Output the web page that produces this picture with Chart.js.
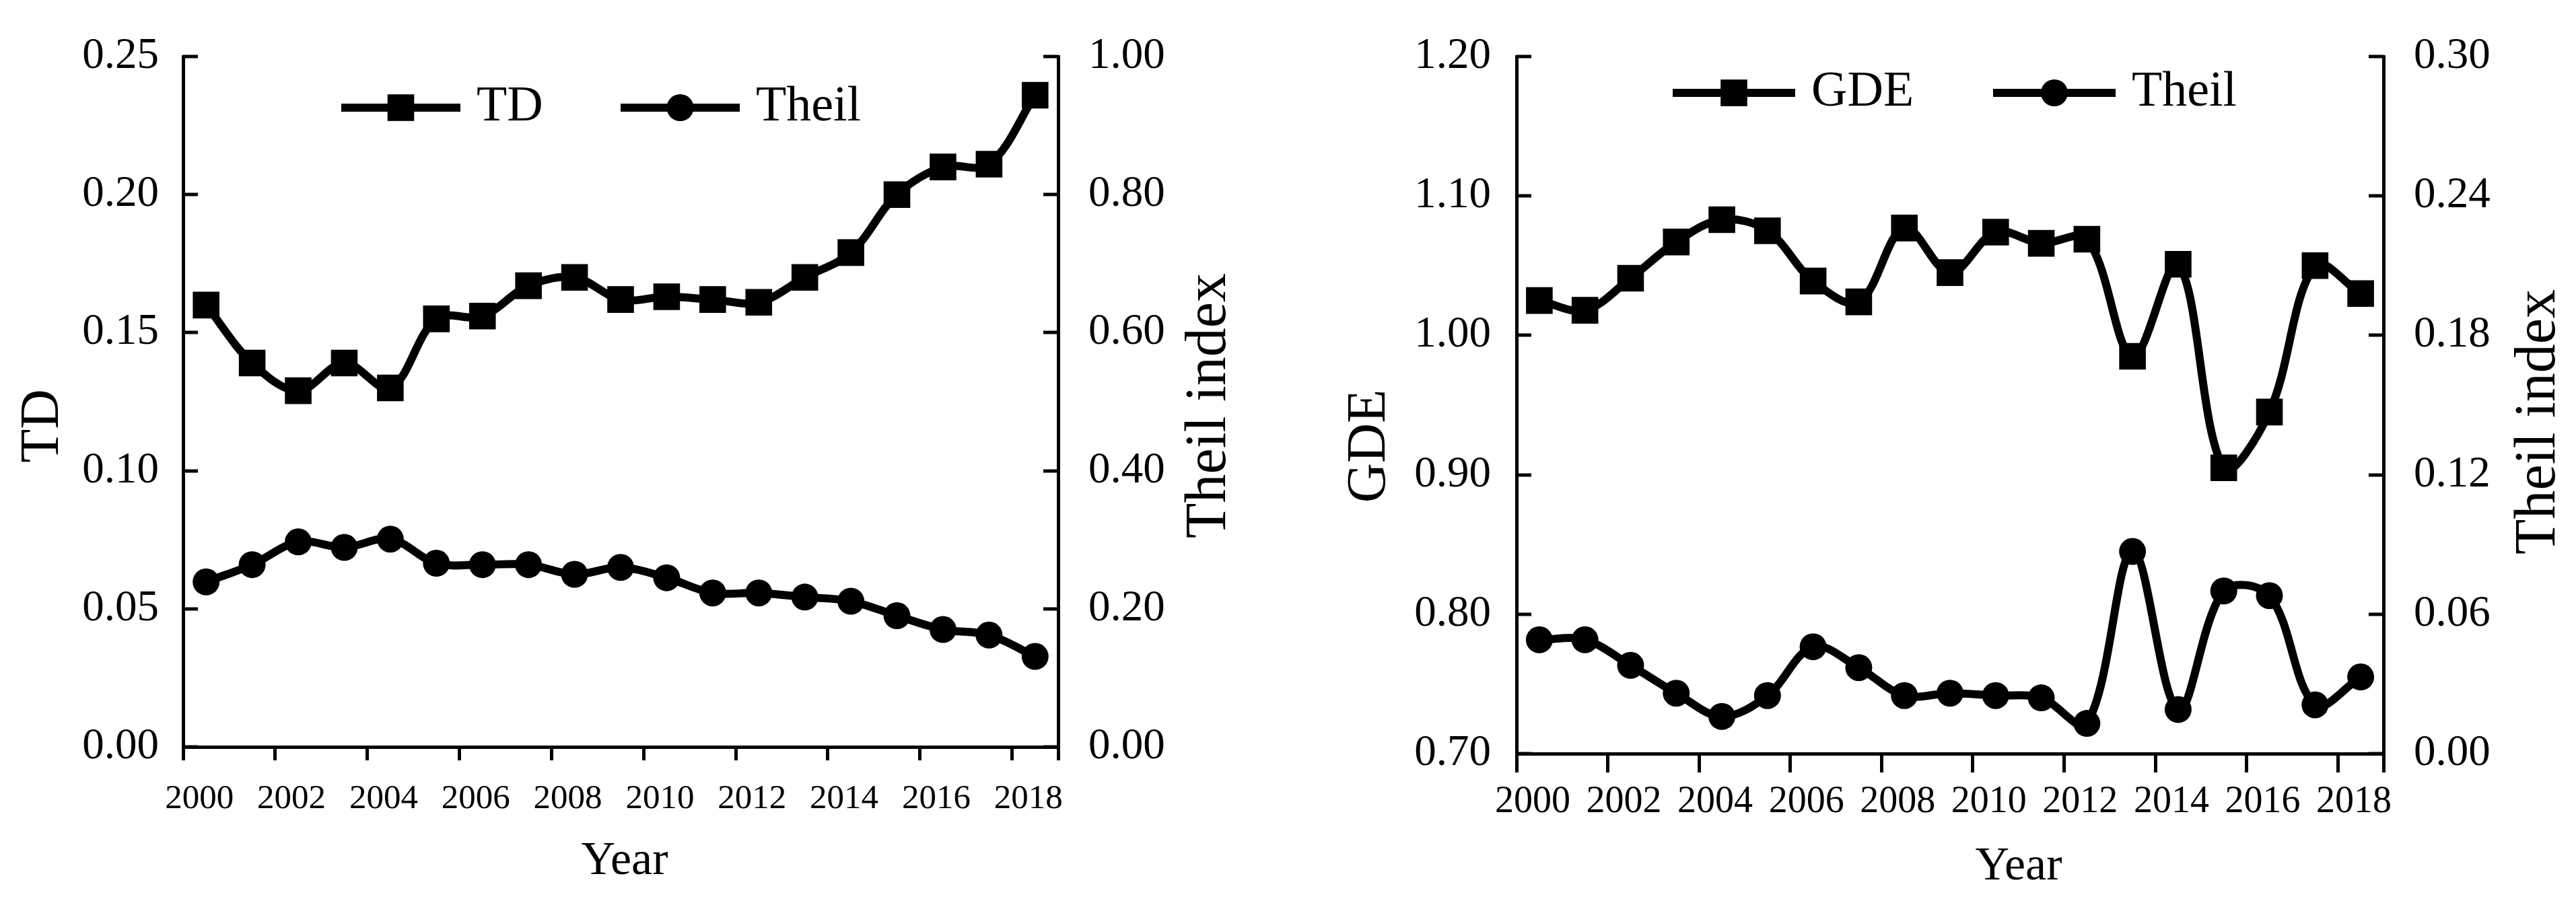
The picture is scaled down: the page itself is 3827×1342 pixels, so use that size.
<!DOCTYPE html>
<html>
<head>
<meta charset="utf-8">
<script src="https://cdn.jsdelivr.net/npm/chart.js@4.4.1/dist/chart.umd.min.js"></script>
<style>
  html, body { margin: 0; padding: 0; background: #fff; }
  #wrap { position: relative; width: 3827px; height: 1342px; }
  canvas { position: absolute; top: 0; }
  #chart-left { left: 0; }
  #chart-right { left: 1914px; }
</style>
</head>
<body>
<div id="wrap">
  <canvas id="chart-left" width="1914" height="1342"></canvas>
  <canvas id="chart-right" width="1913" height="1342"></canvas>
</div>
<script>
const FONT = '"Liberation Serif", "Times New Roman", serif';

const years = ['2000', '2001', '2002', '2003', '2004', '2005', '2006', '2007', '2008', '2009',
  '2010', '2011', '2012', '2013', '2014', '2015', '2016', '2017', '2018'];
const yearTickLabels = ['2000', '2002', '2004', '2006', '2008', '2010', '2012', '2014', '2016', '2018'];

// left panel
const tdValues = [0.160, 0.139, 0.129, 0.139, 0.130, 0.155, 0.156, 0.167, 0.170, 0.162,
  0.163, 0.162, 0.161, 0.170, 0.179, 0.200, 0.210, 0.211, 0.236];
const theilLeft = [0.239, 0.264, 0.297, 0.289, 0.301, 0.266, 0.264, 0.264, 0.250, 0.260,
  0.245, 0.223, 0.223, 0.217, 0.211, 0.190, 0.170, 0.162, 0.131];
const tdTicks = [0, 0.05, 0.10, 0.15, 0.20, 0.25];
const theilLeftTicks = [0, 0.2, 0.4, 0.6, 0.8, 1.0];

// right panel
const gdeValues = [1.025, 1.018, 1.041, 1.067, 1.083, 1.075, 1.039, 1.024, 1.077, 1.045,
  1.074, 1.066, 1.069, 0.985, 1.051, 0.905, 0.945, 1.050, 1.030];
const theilRight = [0.049, 0.049, 0.038, 0.026, 0.016, 0.025, 0.046, 0.037, 0.025, 0.026,
  0.025, 0.024, 0.013, 0.087, 0.019, 0.070, 0.068, 0.021, 0.033];
const gdeTicks = [0.7, 0.8, 0.9, 1.0, 1.1, 1.2];
const theilRightTicks = [0, 0.06, 0.12, 0.18, 0.24, 0.30];

Chart.defaults.font.family = FONT;
Chart.defaults.color = '#000';

// y ticks point inward, Chart.js only draws them outward
const innerTicks = {
  id: 'innerTicks',
  afterDraw(chart) {
    const ctx = chart.ctx;
    ctx.save();
    ctx.strokeStyle = '#000';
    ctx.lineWidth = 5;
    Object.values(chart.scales).forEach((scale) => {
      if (scale.axis !== 'y') return;
      const edge = scale.position === 'left' ? scale.right : scale.left;
      const dir = scale.position === 'left' ? 1 : -1;
      scale.ticks.forEach((tick) => {
        const y = Math.round(scale.getPixelForValue(tick.value));
        ctx.beginPath();
        ctx.moveTo(edge, y);
        ctx.lineTo(edge + dir * 22, y);
        ctx.stroke();
      });
    });
    ctx.restore();
  },
};

// axis titles: both y titles read bottom-to-top, placed like the original figure
function makeTitles(items) {
  return {
    id: 'axisTitles',
    afterDraw(chart) {
      const ctx = chart.ctx;
      items.forEach((item) => {
        ctx.save();
        ctx.translate(item.x, item.y);
        if (item.vertical) ctx.rotate(-Math.PI / 2);
        ctx.font = `${item.size}px ${FONT}`;
        ctx.fillStyle = '#000';
        ctx.textAlign = 'center';
        ctx.textBaseline = 'middle';
        ctx.fillText(item.text, 0, 0);
        ctx.restore();
      });
    },
  };
}

// legend with a line through the marker, like the Excel one
function makeLegend(items) {
  return {
    id: 'lineLegend',
    afterDraw(chart) {
      const { ctx, chartArea } = chart;
      ctx.save();
      items.forEach((item) => {
        const ds = chart.data.datasets[item.dataset];
        const x0 = chartArea.left + item.dx;
        const y = chartArea.top + item.dy;
        ctx.strokeStyle = ds.borderColor;
        ctx.lineWidth = ds.borderWidth;
        ctx.beginPath();
        ctx.moveTo(x0, y);
        ctx.lineTo(x0 + item.len, y);
        ctx.stroke();
        ctx.fillStyle = ds.pointBackgroundColor;
        const cx = x0 + item.len / 2;
        if (ds.pointStyle === 'rect') {
          const half = Math.SQRT1_2 * ds.pointRadius;
          ctx.fillRect(cx - half, y - half, half * 2, half * 2);
        } else {
          ctx.beginPath();
          ctx.arc(cx, y, ds.pointRadius, 0, Math.PI * 2);
          ctx.fill();
        }
        ctx.font = `74px ${FONT}`;
        ctx.fillStyle = '#000';
        ctx.textAlign = 'left';
        ctx.textBaseline = 'middle';
        ctx.fillText(ds.label, x0 + item.len + 24, y);
      });
      ctx.restore();
    },
  };
}

function xScale(fontSize, tickLength, padding, height) {
  return {
    type: 'category',
    offset: true,
    grid: {
      offset: true,
      drawOnChartArea: false,
      drawTicks: true,
      tickLength,
      lineWidth: 5,
      color: (c) => (c.index === undefined || c.index % 2 === 0 ? '#000' : 'rgba(0,0,0,0)'),
    },
    border: { display: true, color: '#000', width: 5 },
    ticks: {
      autoSkip: false,
      maxRotation: 0,
      minRotation: 0,
      padding,
      labelOffset: -10,
      color: '#000',
      font: { family: FONT, size: fontSize },
      callback: (value, index) => (yearTickLabels.includes(years[index]) ? years[index] : ''),
    },
    afterFit: (scale) => { scale.height = height; },
  };
}

function yScale(position, tickValues, width, padding) {
  return {
    type: 'linear',
    position,
    min: tickValues[0],
    max: tickValues[tickValues.length - 1],
    afterBuildTicks: (scale) => { scale.ticks = tickValues.map((v) => ({ value: v })); },
    grid: { drawOnChartArea: false, drawTicks: false },
    border: { display: true, color: '#000', width: 5 },
    ticks: {
      padding,
      color: '#000',
      font: { family: FONT, size: 65 },
      callback: (value) => Number(value).toFixed(2),
    },
    afterFit: (scale) => { scale.width = width; },
  };
}

function lineDataset(label, data, axis, style, radius) {
  return {
    label,
    data,
    yAxisID: axis,
    borderColor: '#000',
    backgroundColor: '#000',
    borderWidth: 12,
    tension: 0.35,
    pointStyle: style,
    pointRadius: radius,
    pointBackgroundColor: '#000',
    pointBorderWidth: 0,
  };
}

const baseOptions = (top) => ({
  responsive: false,
  animation: false,
  devicePixelRatio: 1,
  layout: { padding: { top, left: 0, right: 0, bottom: 0 } },
  plugins: { legend: { display: false }, tooltip: { enabled: false } },
});

new Chart(document.getElementById('chart-left'), {
  type: 'line',
  data: {
    labels: years,
    datasets: [
      lineDataset('TD', tdValues, 'y', 'rect', 28),
      lineDataset('Theil', theilLeft, 'y1', 'circle', 20),
    ],
  },
  options: {
    ...baseOptions(82),
    scales: {
      x: xScale(51, 20, 27, 232),
      y: yScale('left', tdTicks, 272, 36),
      y1: yScale('right', theilLeftTicks, 342, 45),
    },
  },
  plugins: [
    innerTicks,
    makeTitles([
      { text: 'TD', x: 64, y: 633, size: 82, vertical: true },
      { text: 'Theil index', x: 1797, y: 603, size: 86, vertical: true },
      { text: 'Year', x: 928, y: 1281, size: 70 },
    ]),
    makeLegend([
      { dataset: 0, dx: 235, dy: 76, len: 177 },
      { dataset: 1, dx: 650, dy: 76, len: 177 },
    ]),
  ],
});

new Chart(document.getElementById('chart-right'), {
  type: 'line',
  data: {
    labels: years,
    datasets: [
      lineDataset('GDE', gdeValues, 'y', 'rect', 28),
      lineDataset('Theil', theilRight, 'y1', 'circle', 20),
    ],
  },
  options: {
    ...baseOptions(54),
    scales: {
      x: xScale(56, 28, 11, 222),
      y: yScale('left', gdeTicks, 339, 38),
      y1: yScale('right', theilRightTicks, 286, 45),
    },
  },
  plugins: [
    innerTicks,
    makeTitles([
      { text: 'GDE', x: 121, y: 663, size: 82, vertical: true },
      { text: 'Theil index', x: 1858, y: 627, size: 86, vertical: true },
      { text: 'Year', x: 1085, y: 1289, size: 70 },
    ]),
    makeLegend([
      { dataset: 0, dx: 232, dy: 54, len: 182 },
      { dataset: 1, dx: 708, dy: 54, len: 182 },
    ]),
  ],
});
</script>
</body>
</html>
